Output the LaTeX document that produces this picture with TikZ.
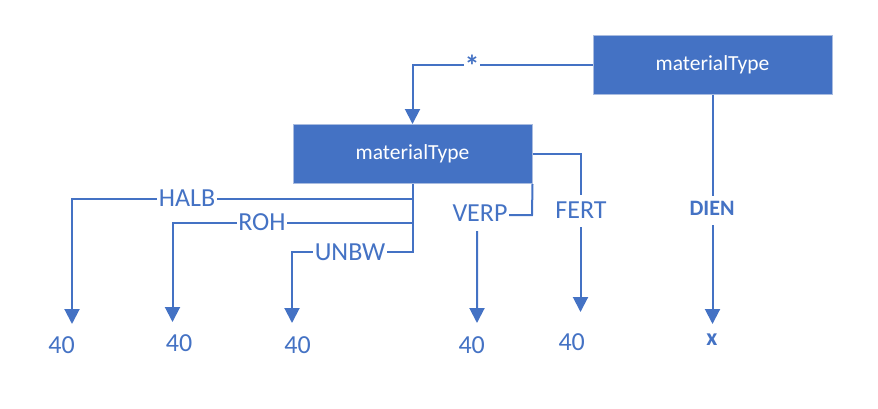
\documentclass[tikz,border=0pt]{standalone}
\usepackage{fontspec}
\setmainfont{Carlito}
\usetikzlibrary{arrows.meta}
\definecolor{acc}{HTML}{4472C4}
\definecolor{boxline}{HTML}{A9BCE0}
\begin{document}
\begin{tikzpicture}[x=1pt,y=-1pt,
  box/.style={draw=boxline, line width=1pt, fill=acc, text=white,
    minimum width=239pt, minimum height=59pt, inner sep=0pt,
    font=\fontsize{21.5}{24}\selectfont},
  conn/.style={draw=acc, line width=2pt},
  arr/.style={conn, -{Triangle[width=15pt,length=15pt]}},
  lab/.style={fill=white, text=acc, inner xsep=1.5pt, inner ysep=0pt,
    text height=23pt, text depth=9pt, anchor=base,
    font=\fontsize{26}{30}\selectfont},
  blab/.style={fill=white, text=acc, inner xsep=1.5pt, inner ysep=0pt,
    text height=20pt, text depth=9pt, anchor=base,
    font=\fontsize{22}{26}\selectfont\bfseries},
  val/.style={text=acc, inner sep=0pt, anchor=base,
    font=\fontsize{26}{30}\selectfont},
  bval/.style={text=acc, inner sep=0pt, anchor=base,
    font=\fontsize{24}{28}\selectfont\bfseries}]
\useasboundingbox (0,0) rectangle (878,408);

% boxes
\node[box] (top) at (712.5,64.5) {materialType};
\node[box] (mid) at (412.5,154) {materialType};

% arrow tips
\coordinate (tH) at (72,324);
\coordinate (tR) at (172.5,322);
\coordinate (tU) at (292,323);
\coordinate (tV) at (477,323);
\coordinate (tF) at (580.5,312);
\coordinate (tD) at (712.5,324);

% connectors
\draw[arr] (top.west) -| (mid.north);
\draw[arr] (mid.south) -- (412.5,199) -| (tH);
\draw[arr] (mid.south) -- (412.5,222.5) -| (tR);
\draw[arr] (mid.south) -- (412.5,251.5) -| (tU);
\draw[arr] (mid.south east) -- (532,215) -| (tV);
\draw[arr] (mid.east) -| (tF);
\draw[arr] (top.south) -- (tD);

% connector labels
\node[blab, font=\fontsize{30}{34}\selectfont\bfseries, text height=24pt, text depth=-8pt, inner xsep=1pt] (star) at (472,76) {*};
\node[lab] (halb) at (187,206.7) {HALB};
\node[lab] (roh) at (262,230) {ROH};
\node[lab] (unbw) at (350,260) {UNBW};
\node[lab] (verp) at (480,221.7) {VERP};
\node[lab] (fert) at (581,218.3) {FERT};
\node[blab] (dien) at (712,215.7) {DIEN};

% values
\node[val] (v1) at (61.5,353) {40};
\node[val] (v2) at (179,351.5) {40};
\node[val] (v3) at (297.5,353) {40};
\node[val] (v4) at (471.7,353) {40};
\node[val] (v5) at (571.7,350) {40};
\node[bval] (v6) at (712,345) {x};
\end{tikzpicture}
\end{document}
